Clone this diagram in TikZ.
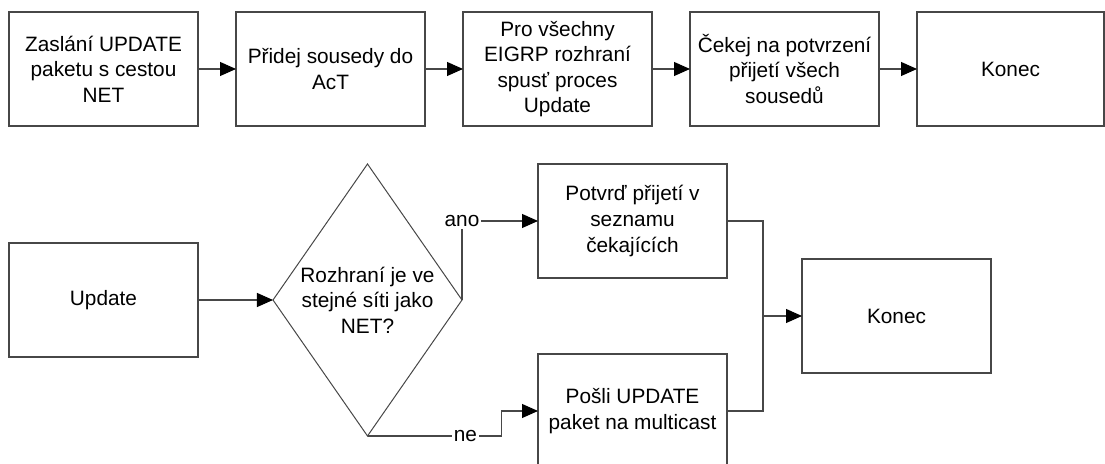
\documentclass[tikz,border=0pt]{standalone}
\usepackage{fontspec}
\setmainfont{Liberation Sans}
\usepackage{tikz}
\usetikzlibrary{shapes.geometric,arrows.meta}
\usetikzlibrary{positioning,calc}
\colorlet{cara}{black!72}

\begin{document}
\begin{tikzpicture}[>={Triangle[length=8pt,width=7pt,color=black]},
		font=\fontsize{10.4pt}{12.8pt}\selectfont,
		etapa/.style={draw=cara, line width=0.6pt, rectangle, align=center,
			minimum width=94.5pt, minimum height=57pt, inner sep=1pt, outer sep=0pt},
		rozhod/.style={draw=cara, line width=0.5pt, diamond, align=center, aspect=0.695,
			minimum width=94.5pt, minimum height=136pt, inner sep=0pt, outer sep=0pt},
		spoj/.style={draw=cara, line width=0.55pt},
		popis/.style={fill=white, inner sep=1pt}]
				% horni rada
				\node[etapa] (zaslani) {Zaslání UPDATE\\paketu s cestou\\NET};
				\node[etapa,right=19pt of zaslani] (pridej) {Přidej sousedy do\\AcT};
				\node[etapa,right=19pt of pridej] (rozhrani) {Pro všechny\\EIGRP rozhraní\\spusť proces\\Update};
				\node[etapa,right=19pt of rozhrani] (cekej) {Čekej na potvrzení\\přijetí všech\\sousedů};
				\node[etapa,right=19pt of cekej, minimum width=93.5pt] (konec) {Konec};
				\useasboundingbox (zaslani.center) ++(-51.75pt,34.5pt) rectangle ++(552.5pt,-232pt);
				\draw[spoj,->] (zaslani) -- (pridej);
				\draw[spoj,->] (pridej) -- (rozhrani);
				\draw[spoj,->] (rozhrani) -- (cekej);
				\draw[spoj,->] (cekej) -- (konec);
				% proces Update
				\node[etapa,below=58.5pt of zaslani] (update) {Update};
				\node[rozhod,right=37.5pt of update] (sit) {Rozhraní je ve\\stejné síti jako\\NET?};
				\node[etapa,above right=11pt and 38pt of sit.east] (potvrd) {Potvrď přijetí v\\seznamu\\čekajících};
				\node[etapa,below right=27pt and 38pt of sit.east] (posli) {Pošli UPDATE\\paket na multicast};
				\node[etapa,right=37.5pt of $(potvrd.east)!0.5!(posli.east)$] (konec2) {Konec};
				\coordinate[left=19.5pt of konec2.west] (sber);
				\draw[spoj,->] (update) -- (sit);
				\draw[spoj,->] (sit.east) |- node[popis]{ano} (potvrd);
				\draw[spoj,->] (sit.south) -- ++(67pt,0) node[popis,pos=0.73]{ne} |- (posli);
				\draw[spoj] (potvrd) -| (sber);
				\draw[spoj] (posli) -| (sber);
				\draw[spoj,->] (sber) -- (konec2);
\end{tikzpicture}
\end{document}
